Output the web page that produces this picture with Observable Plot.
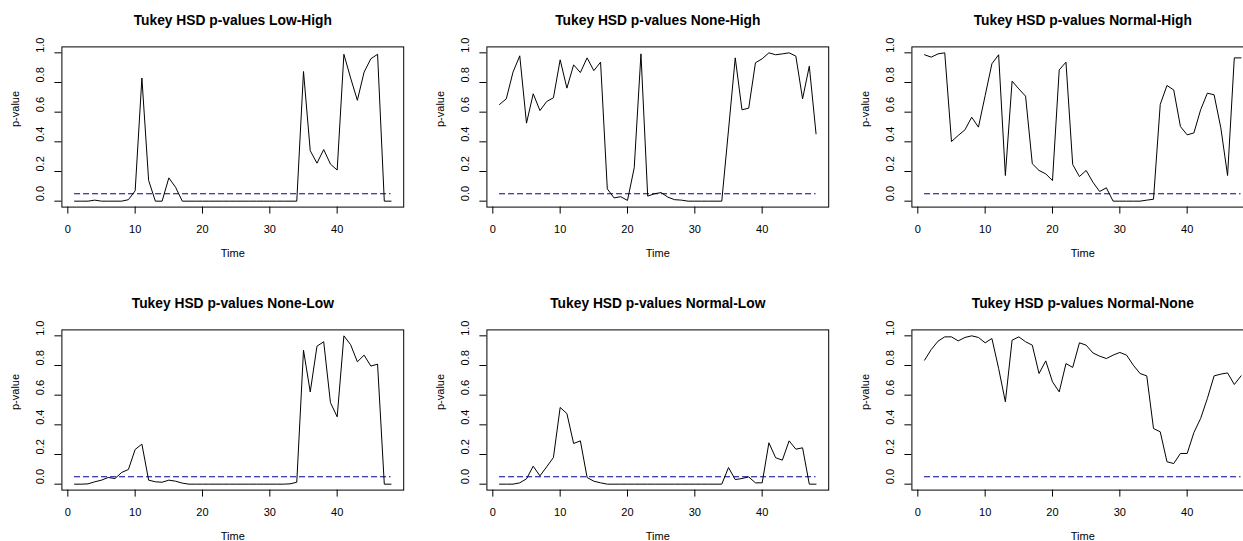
<!DOCTYPE html>
<html><head><meta charset="utf-8">
<script src="https://cdn.jsdelivr.net/npm/d3@7"></script>
<script src="https://cdn.jsdelivr.net/npm/@observablehq/plot@0.6"></script>
<style>
html,body{margin:0;padding:0;background:#fff;}
#chart{position:relative;width:1243px;height:541px;overflow:hidden;background:#fff;}
#chart .panel{position:absolute;width:426px;height:284px;}
#chart svg{display:block;max-width:none !important;width:426px !important;height:284px !important;}
</style></head><body><div id="chart"></div>
<script>
const time = [1,2,3,4,5,6,7,8,9,10,11,12,13,14,15,16,17,18,19,20,21,22,23,24,25,26,27,28,29,30,31,32,33,34,35,36,37,38,39,40,41,42,43,44,45,46,47,48];
const comparisons = ["Low-High","None-High","Normal-High","None-Low","Normal-Low","Normal-None"];
const lowHigh = [0,0,0,0.007,0,0,0,0,0.01,0.07,0.83,0.14,0,0,0.157,0.094,0,
  0,0,0,0,0,0,0,0,0,0,0,0,0,0,0,0,0,
  0.874,0.34,0.256,0.348,0.25,0.21,0.99,0.83,0.68,0.87,0.96,0.99,0,0];
const noneHigh = [0.652,0.69,0.87,0.98,0.526,0.724,0.611,0.672,0.697,0.953,0.762,0.919,0.867,0.966,0.88,0.937,
  0.083,0.022,0.03,0.005,0.225,0.993,0.034,0.05,0.058,0.027,0.01,0.007,
  0,0,0,0,0,0,
  0.48,0.966,0.616,0.627,0.933,0.96,1.0,0.987,0.993,1.0,0.978,0.69,0.91,0.454];
const normalHigh = [0.987,0.971,0.993,1.0,0.402,0.443,0.481,0.566,0.499,0.712,0.926,0.987,
  0.173,0.809,0.757,0.708,0.252,0.207,0.184,0.139,0.885,0.937,0.247,0.166,0.207,0.128,0.065,0.09,
  0,0,0,0,0,0.007,0.013,
  0.652,0.78,0.75,0.503,0.447,0.46,0.616,0.728,0.717,0.494,0.173,0.966,0.966];
const noneLow = [0,0,0.002,0.016,0.027,0.045,0.038,0.079,0.099,0.234,0.27,0.027,0.016,0.013,0.027,0.02,0.007,
  0,0,0,0,0,0,0,0,0,0,0,0,0,0,0,
  0.002,0.013,
  0.903,0.622,0.93,0.96,0.55,0.454,1.0,0.94,0.825,0.87,0.796,0.809,0,0];
const normalLow = [0,0,0,0.009,0.036,0.121,0.056,0.117,0.18,0.517,0.476,0.274,0.292,0.045,0.02,0.009,
  0,0,0,0,0,0,0,0,0,0,0,0,0,0,0,0,0,0,
  0.112,0.031,0.038,0.049,0.009,0.009,0.279,0.178,0.162,0.292,0.236,0.245,0,0];
const normalNone = [0.836,0.908,0.964,0.993,0.993,0.966,0.989,1.0,0.989,0.953,
  0.982,0.78,0.555,0.971,0.993,0.96,0.937,0.746,0.831,0.69,
  0.622,0.813,0.787,0.953,0.937,0.885,0.863,0.847,0.87,0.888,
  0.87,0.802,0.746,0.73,0.375,0.353,0.151,0.139,0.207,0.207,
  0.348,0.443,0.578,0.73,0.742,0.75,0.672,0.73];
const xTicks = [0,10,20,30,40];
const yTicks = [0,0.2,0.4,0.6,0.8,1.0];
const threshold = 0.05;
const titlePrefix = "Tukey HSD p-values ";
const xLabel = "Time";
const yLabel = "p-value";

const series = [lowHigh, noneHigh, normalHigh, noneLow, normalLow, normalNone];
const W = 426, H = 284, colStep = 425.2, rowStep = 283;
const boxL = 61.4, boxR = 403.2, boxT = 46.4, boxB = 206.6;
const chart = document.getElementById("chart");

series.forEach((vals, i) => {
  const data = time.map((t, j) => ({t, p: vals[j]}));
  const svg = Plot.plot({
    width: W, height: H,
    marginLeft: boxL, marginRight: W - boxR, marginTop: boxT, marginBottom: H - boxB,
    style: {fontFamily: "'Liberation Sans', Arial, sans-serif", fontSize: "11px", color: "#000", background: "transparent"},
    x: {domain: [-0.88, 49.88]},
    y: {domain: [-0.04, 1.04]},
    marks: [
      Plot.frame({stroke: "#000", strokeWidth: 1}),
      Plot.axisX({ticks: xTicks, tickSize: 7, label: null, tickFormat: () => ""}),
      Plot.axisY({ticks: yTicks, tickSize: 7, label: null, tickFormat: () => ""}),
      Plot.text(xTicks, {x: d => d, text: d => String(d), frameAnchor: "bottom", lineAnchor: "middle", dy: 22.5}),
      Plot.text(yTicks, {y: d => d, text: d => d.toFixed(1), frameAnchor: "left", lineAnchor: "middle", dx: -21, rotate: -90}),
      Plot.ruleY([threshold], {x1: time[0], x2: time[time.length - 1], stroke: "#00008B", strokeWidth: 1, strokeDasharray: "6,3"}),
      Plot.line(data, {x: "t", y: "p", stroke: "#000", strokeWidth: 1}),
      Plot.text([titlePrefix + comparisons[i]], {text: d => d, frameAnchor: "top", lineAnchor: "middle", dy: -26.4, fontWeight: "bold", fontSize: 13.8}),
      Plot.text([xLabel], {text: d => d, frameAnchor: "bottom", lineAnchor: "middle", dy: 46.5}),
      Plot.text([yLabel], {text: d => d, frameAnchor: "left", lineAnchor: "middle", dx: -46, rotate: -90})
    ]
  });
  const div = document.createElement("div");
  div.className = "panel";
  div.style.left = ((i % 3) * colStep) + "px";
  div.style.top = (Math.floor(i / 3) * rowStep) + "px";
  div.appendChild(svg);
  chart.appendChild(div);
});
</script></body></html>
